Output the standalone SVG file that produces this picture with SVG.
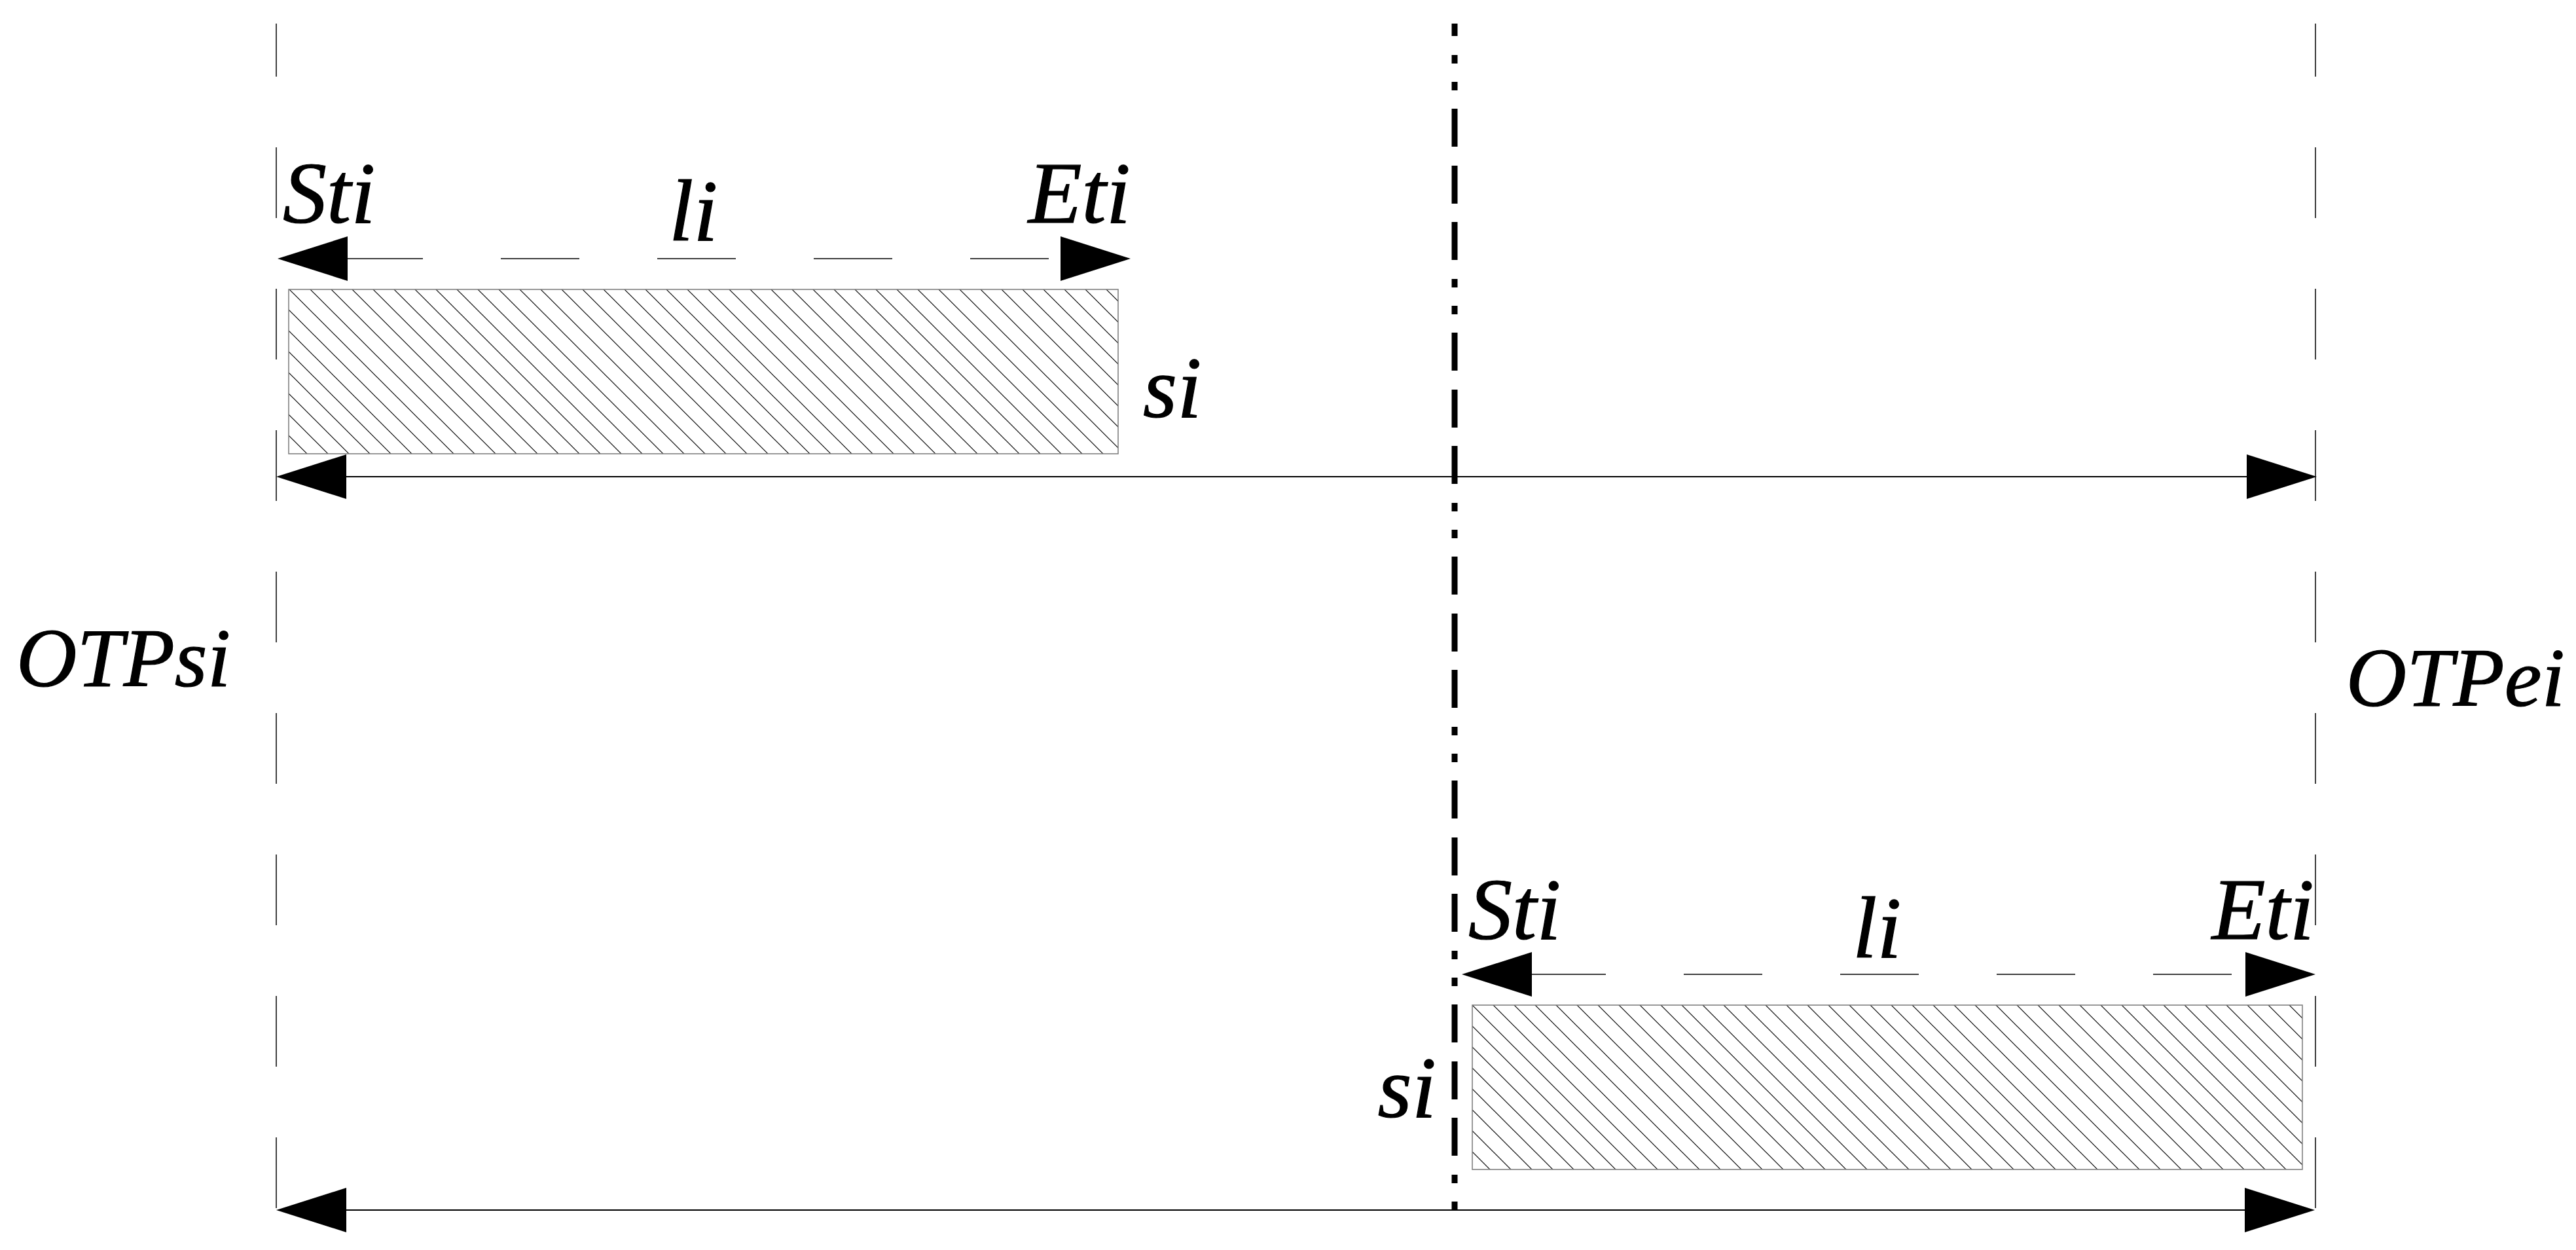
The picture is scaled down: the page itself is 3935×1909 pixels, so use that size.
<svg xmlns="http://www.w3.org/2000/svg" width="3935" height="1909" viewBox="0 0 3935 1909">
<style>
.lbl{font-family:"Liberation Serif","Times New Roman",serif;font-style:italic;font-size:134px;fill:#000;stroke:#000;stroke-width:1.2}
.side{font-size:128px}
.guide{stroke:#000;stroke-width:1.5;fill:none;stroke-dasharray:108 108;stroke-dashoffset:27}
.center{stroke:#000;stroke-width:9;fill:none;stroke-dasharray:58 29 58 28 58 29 13 28 13 28;stroke-dashoffset:212}
.dim{stroke:#000;stroke-width:1.6;fill:none;stroke-dasharray:120 119;marker-start:url(#ah);marker-end:url(#ah)}
.span{stroke:#000;stroke-width:2;fill:none;marker-start:url(#ah);marker-end:url(#ah)}
.bar{stroke:#808080;stroke-width:1.6}
</style>
<defs>
<marker id="ah" markerUnits="userSpaceOnUse" viewBox="0 0 107 68" markerWidth="107" markerHeight="68" refX="0" refY="34" orient="auto-start-reverse" overflow="visible">
<path d="M0,0 L107,34 L0,68 Z" fill="#000"/>
</marker>
<pattern id="hatchA" patternUnits="userSpaceOnUse" x="0" y="0" width="32" height="32">
<path d="M-8,-8 L40,40 M-8,24 L8,40 M24,-8 L40,8" stroke="#000" stroke-width="1.2" fill="none"/>
</pattern>
<pattern id="hatchB" patternUnits="userSpaceOnUse" x="10" y="0" width="32" height="32">
<path d="M-8,-8 L40,40 M-8,24 L8,40 M24,-8 L40,8" stroke="#000" stroke-width="1.2" fill="none"/>
</pattern>
</defs>
<rect width="3935" height="1909" fill="#fff"/>

<g id="guides">
<line class="guide" x1="422" y1="36" x2="422" y2="1850"/>
<line class="guide" x1="3537" y1="36" x2="3537" y2="1850"/>
<line class="center" x1="2222" y1="36" x2="2222" y2="1847"/>
</g>

<g id="bar-upper">
<rect class="bar" x="441" y="442" width="1267" height="251" fill="url(#hatchA)"/>
</g>
<g id="bar-lower">
<rect class="bar" x="2249" y="1535" width="1268" height="251" fill="url(#hatchB)"/>
</g>

<g id="connectors">
<line class="dim" x1="531" y1="395" x2="1620" y2="395" style="stroke-dashoffset:5"/>
<line class="span" x1="529" y1="728" x2="3432" y2="728"/>
<line class="dim" x1="2340" y1="1488" x2="3430" y2="1488" style="stroke-dashoffset:7"/>
<line class="span" x1="529" y1="1848" x2="3429" y2="1848"/>
</g>

<g id="labels-upper">
<text class="lbl" x="432" y="340">Sti</text>
<text class="lbl" x="1022" y="367">li</text>
<text class="lbl" x="1727" y="340" text-anchor="end">Eti</text>
<text class="lbl" x="1746" y="637">si</text>
</g>
<g id="labels-side">
<text class="lbl side" x="25" y="1048">OTPsi</text>
<text class="lbl side" x="3918" y="1078" text-anchor="end">OTPei</text>
</g>
<g id="labels-lower">
<text class="lbl" x="2243" y="1434">Sti</text>
<text class="lbl" x="2830" y="1462">li</text>
<text class="lbl" x="3535" y="1434" text-anchor="end">Eti</text>
<text class="lbl" x="2194" y="1706" text-anchor="end">si</text>
</g>
</svg>
